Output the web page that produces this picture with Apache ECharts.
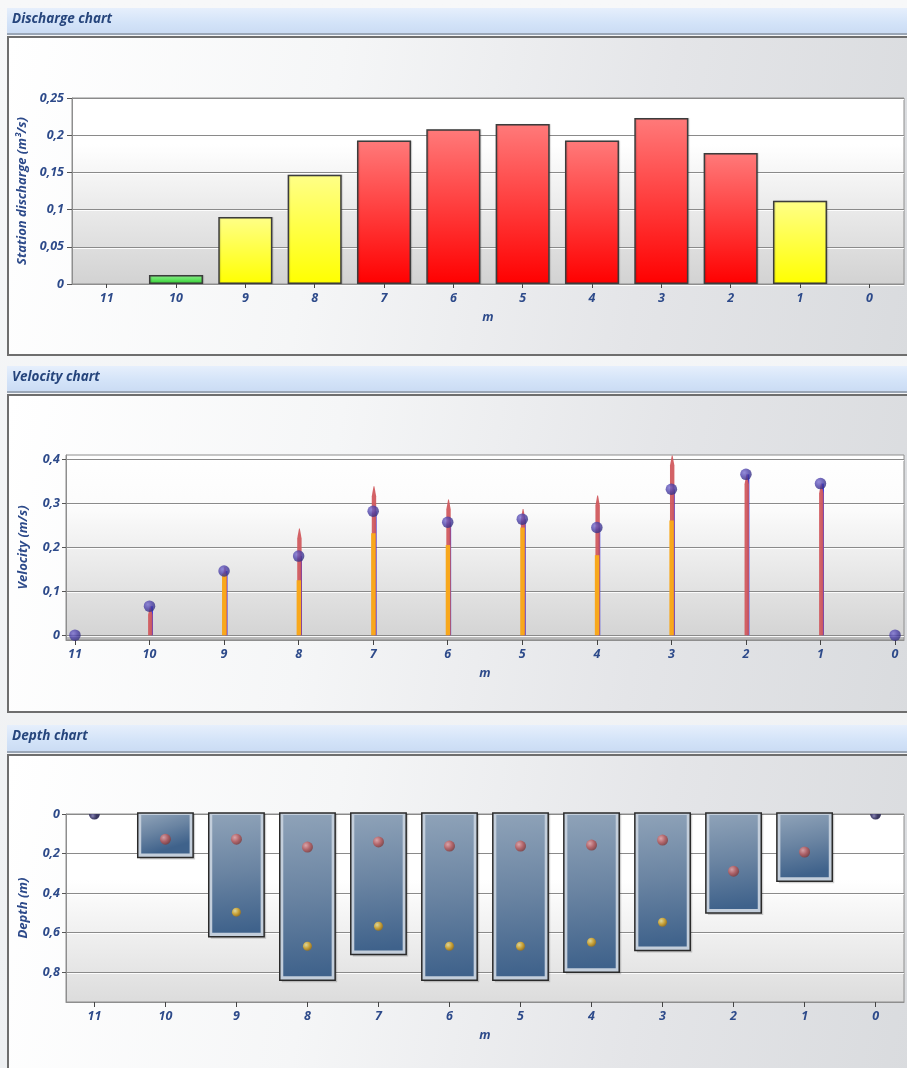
<!DOCTYPE html>
<html><head><meta charset="utf-8">
<script src="https://cdn.jsdelivr.net/npm/echarts@6/dist/echarts.min.js"></script>
<style>
html,body{margin:0;padding:0;background:#f3f4f6;overflow:hidden}
#wrap{position:relative;width:907px;height:1068px;background:linear-gradient(180deg,#f7f8f9,#eef0f2)}
.hdr{position:absolute;left:7px;width:905px;background:linear-gradient(180deg,#e6effc 0%,#d3e3f8 60%,#cbdcf4 100%);border-bottom:2px solid #9aa6b6}
.bdy{position:absolute;left:7px;width:905px;border:2px solid #6e6e6e;border-right:none;box-sizing:border-box;background:linear-gradient(100deg,#ffffff 0%,#f5f6f7 35%,#e4e5e8 70%,#d9dbde 100%)}
#c{position:absolute;left:0;top:0;width:907px;height:1068px}
</style>
</head><body><div id="wrap">
<div class="hdr" style="top:8px;height:25px"></div>
<div class="bdy" style="top:36px;height:320px"></div>
<div class="hdr" style="top:366px;height:25px"></div>
<div class="bdy" style="top:394px;height:319px"></div>
<div class="hdr" style="top:725px;height:26px"></div>
<div class="bdy" style="top:754px;height:330px"></div>
<div id="c"></div>
</div>
<script>
// ---- data ----
const stations = [11, 10, 9, 8, 7, 6, 5, 4, 3, 2, 1, 0];
const stationLabels = ['11', '10', '9', '8', '7', '6', '5', '4', '3', '2', '1', '0'];
const discharge = [0, 0.012, 0.090, 0.147, 0.193, 0.208, 0.215, 0.193, 0.223, 0.176, 0.112, 0];
const dischargeTicks = [0, 0.05, 0.1, 0.15, 0.2, 0.25];
const velocity02 = [0, 0.066, 0.155, 0.243, 0.339, 0.309, 0.287, 0.318, 0.409, 0.366, 0.345, 0];
const velocity08 = [null, null, 0.140, 0.125, 0.232, 0.205, 0.245, 0.182, 0.261, null, null, null];
const velocityMean = [0, 0.066, 0.146, 0.180, 0.282, 0.257, 0.264, 0.245, 0.332, 0.366, 0.345, 0];
const velocityTicks = [0, 0.1, 0.2, 0.3, 0.4];
const depth = [0, 0.22, 0.62, 0.84, 0.71, 0.84, 0.84, 0.80, 0.69, 0.50, 0.34, 0];
const depthPoint02 = [null, 0.127, 0.127, 0.167, 0.141, 0.162, 0.162, 0.157, 0.132, 0.289, 0.192, null];
const depthPoint08 = [null, null, 0.496, 0.668, 0.567, 0.668, 0.668, 0.648, 0.547, null, null, null];
const depthTicks = [0, 0.2, 0.4, 0.6, 0.8];

// ---- styles ----
const FONT = '"Open Sans", Lato, sans-serif';
const LBL = {color: '#2d4a8a', fontFamily: FONT, fontStyle: 'italic', fontWeight: 'bold', fontSize: 12.5};
const fmt = v => String(+(+v).toFixed(2)).replace('.', ',');
const lin = (stops, x2 = 0, y2 = 1) => new echarts.graphic.LinearGradient(0, 0, x2, y2, stops.map(c => ({offset: c[0], color: c[1]})));
const rad = (a, b, c) => new echarts.graphic.RadialGradient(0.35, 0.35, 0.7, [{offset: 0, color: a}, {offset: 0.55, color: b}, {offset: 1, color: c}]);

function barColor(v) {
  if (v < 0.05) return lin([[0, '#8ff08f'], [1, '#2fd02f']]);
  if (v < 0.15) return lin([[0, '#ffff88'], [1, '#ffff00']]);
  return lin([[0, '#ff7a7a'], [1, '#ff0000']]);
}

const splitStyle = {lineStyle: {color: '#8a8a8a', width: 1, shadowColor: 'rgba(255,255,255,0.9)', shadowOffsetY: 1}};
const xLineStyle = {show: true, onZero: false, lineStyle: {color: '#8e8e8e', width: 1}};
const yLineStyle = {show: true, onZero: false, lineStyle: {color: '#8e8e8e', width: 1}};

function xValueAxis(grid, min, max) {
  return {
    gridIndex: grid, type: 'value', inverse: true, min: min, max: max,
    axisLine: xLineStyle,
    axisTick: {show: true, length: 5, customValues: stations, lineStyle: {color: '#444'}},
    axisLabel: Object.assign({}, LBL, {margin: 8, customValues: stations, formatter: v => String(Math.round(v))}),
    splitLine: {show: false},
    name: 'm', nameLocation: 'middle', nameGap: 27, nameTextStyle: Object.assign({}, LBL)
  };
}

function renderStem(params, api) {
  const x = api.value(0), r = api.value(1), o = api.value(2), m = api.value(3);
  const base = api.coord([x, 0]);
  const kids = [];
  if (m > 0) {
    const t = api.coord([x, m]);
    kids.push({type: 'rect', shape: {x: base[0] + 1.2, y: t[1], width: 2.2, height: base[1] - t[1]}, style: {fill: '#2b2be6'}});
  }
  if (r > 0) {
    const t = api.coord([x, r]);
    const cx = base[0] + 0.8;
    const tip = Math.min(10, (base[1] - t[1]) * 0.3);
    kids.push({type: 'polygon', shape: {points: [
      [cx - 2.2, base[1]], [cx - 2.2, t[1] + tip], [cx - 0.4, t[1]], [cx + 0.4, t[1]], [cx + 2.2, t[1] + tip], [cx + 2.2, base[1]]
    ]}, style: {fill: '#d15a5e', opacity: 0.95}});
  }
  if (o > 0) {
    const t = api.coord([x, o]);
    kids.push({type: 'rect', shape: {x: base[0] - 2.0, y: t[1], width: 4.4, height: base[1] - t[1]}, style: {fill: '#f8a81c'}});
  }
  return {type: 'group', children: kids};
}

function renderDepthBar(params, api) {
  const x = api.value(0), d = api.value(1);
  if (!(d > 0)) return null;
  const a = api.coord([x + 0.39, 0]);
  const b = api.coord([x - 0.39, d]);
  const left = Math.min(a[0], b[0]), right = Math.max(a[0], b[0]);
  const top = Math.min(a[1], b[1]), bottom = Math.max(a[1], b[1]);
  const w = right - left, h = bottom - top;
  return {type: 'group', children: [
    {type: 'rect', shape: {x: left + 2, y: top, width: w, height: h + 2}, style: {fill: 'rgba(0,0,0,0.18)'}},
    {type: 'rect', shape: {x: left, y: top - 1, width: w, height: h + 1}, style: {fill: '#c3cedb', stroke: '#2a2a2a', lineWidth: 1.5}},
    {type: 'rect', shape: {x: left + 3.5, y: top + 1, width: w - 7, height: h - 5},
      style: {fill: lin([[0, '#8ea2b8'], [0.5, '#6a84a2'], [1, '#3f628b']], 0.25, 1)}}
  ]};
}

// bank points sit on the top edge of the plot: only the part inside the plot is shown
function renderBankDot(params, api) {
  const p = api.coord([api.value(0), api.value(1)]);
  return {type: 'sector', shape: {cx: p[0], cy: p[1], r0: 0, r: 5.5, startAngle: 0, endAngle: Math.PI},
    style: {fill: rad('#8a86b8', '#55527f', '#3a3860')}};
}

const chart = echarts.init(document.getElementById('c'), null, {renderer: 'canvas'});
const titleStyle = {color: '#26457c', fontFamily: FONT, fontStyle: 'italic', fontWeight: 'bold', fontSize: 13.5};

const option = {
  backgroundColor: 'transparent',
  animation: false,
  title: [
    {text: 'Discharge chart', left: 12, top: 12, textStyle: titleStyle, padding: 0},
    {text: 'Velocity chart', left: 12, top: 370, textStyle: titleStyle, padding: 0},
    {text: 'Depth chart', left: 12, top: 729, textStyle: titleStyle, padding: 0}
  ],
  grid: [
    {left: 72, top: 98, width: 832, height: 186, show: true, borderColor: '#8e8e8e', borderWidth: 1,
      backgroundColor: lin([[0, '#ffffff'], [0.25, '#ffffff'], [1, '#d2d2d2']])},
    {left: 66, top: 455, width: 838, height: 185, show: true, borderColor: '#8e8e8e', borderWidth: 1,
      backgroundColor: lin([[0, '#ffffff'], [0.3, '#fbfbfb'], [0.972, '#d4d4d4'], [0.973, '#b9b9b9'], [1, '#b9b9b9']])},
    {left: 66, top: 814, width: 838, height: 188, show: true, borderColor: '#8e8e8e', borderWidth: 1,
      backgroundColor: lin([[0, '#ffffff'], [0.35, '#ffffff'], [1, '#dcdcdc']])}
  ],
  xAxis: [
    {gridIndex: 0, type: 'category', data: stationLabels, boundaryGap: true,
      axisLine: xLineStyle,
      axisTick: {show: true, alignWithLabel: true, length: 4, lineStyle: {color: '#444'}},
      axisLabel: Object.assign({}, LBL, {margin: 8}),
      splitLine: {show: false},
      name: 'm', nameLocation: 'middle', nameGap: 27, nameTextStyle: Object.assign({}, LBL)},
    xValueAxis(1, -0.12, 11.12),
    xValueAxis(2, -0.4, 11.4)
  ],
  yAxis: [
    {gridIndex: 0, type: 'value', min: 0, max: 0.25, interval: 0.05,
      axisLine: yLineStyle,
      axisTick: {show: true, length: 5, lineStyle: {color: '#555'}},
      axisLabel: Object.assign({}, LBL, {margin: 8, formatter: fmt}),
      splitLine: splitStyle,
      name: 'Station discharge (m³/s)', nameLocation: 'middle', nameGap: 42, nameRotate: 90,
      nameTextStyle: Object.assign({}, LBL, {fontSize: 13})},
    {gridIndex: 1, type: 'value', min: -0.011, max: 0.41,
      axisLine: yLineStyle,
      axisTick: {show: true, length: 4, customValues: velocityTicks, lineStyle: {color: '#555'}},
      axisLabel: Object.assign({}, LBL, {margin: 6, customValues: velocityTicks, formatter: fmt}),
      splitLine: splitStyle,
      name: 'Velocity (m/s)', nameLocation: 'middle', nameGap: 36, nameRotate: 90,
      nameTextStyle: Object.assign({}, LBL, {fontSize: 13})},
    {gridIndex: 2, type: 'value', inverse: true, min: 0, max: 0.95,
      axisLine: yLineStyle,
      axisTick: {show: true, length: 4, customValues: depthTicks, lineStyle: {color: '#555'}},
      axisLabel: Object.assign({}, LBL, {margin: 6, customValues: depthTicks, formatter: fmt}),
      splitLine: splitStyle,
      name: 'Depth (m)', nameLocation: 'middle', nameGap: 36, nameRotate: 90,
      nameTextStyle: Object.assign({}, LBL, {fontSize: 13})}
  ],
  series: [
    {type: 'bar', xAxisIndex: 0, yAxisIndex: 0, barWidth: '78%',
      data: discharge.map(v => ({value: v, itemStyle: {color: barColor(v), borderColor: v > 0 ? '#3c3c3c' : 'transparent', borderWidth: 1.5,
        shadowColor: 'rgba(0,0,0,0.15)', shadowOffsetX: 1, shadowOffsetY: 0, shadowBlur: 1}}))},
    {type: 'custom', xAxisIndex: 1, yAxisIndex: 1, renderItem: renderStem, z: 3,
      encode: {x: 0, y: 1},
      data: stations.map((s, i) => [s, velocity02[i], velocity08[i] == null ? 0 : velocity08[i], velocityMean[i]])},
    {type: 'scatter', xAxisIndex: 1, yAxisIndex: 1, z: 5, symbolSize: 11.5,
      itemStyle: {color: rad('#7a6fd0', '#4a3fa6', '#35307e')},
      data: stations.map((s, i) => [s, velocityMean[i]])},
    {type: 'custom', xAxisIndex: 2, yAxisIndex: 2, renderItem: renderDepthBar, z: 2,
      encode: {x: 0, y: 1},
      data: stations.map((s, i) => [s, depth[i]])},
    {type: 'scatter', xAxisIndex: 2, yAxisIndex: 2, z: 5, symbolSize: 11,
      itemStyle: {color: rad('#f0a8a8', '#bf5a5a', '#7e3838')},
      data: stations.map((s, i) => [s, depthPoint02[i]]).filter(d => d[1] != null)},
    {type: 'scatter', xAxisIndex: 2, yAxisIndex: 2, z: 5, symbolSize: 9,
      itemStyle: {color: rad('#fff0a0', '#e8b020', '#a07010')},
      data: stations.map((s, i) => [s, depthPoint08[i]]).filter(d => d[1] != null)},
    {type: 'custom', xAxisIndex: 2, yAxisIndex: 2, z: 5, renderItem: renderBankDot,
      encode: {x: 0, y: 1},
      data: stations.map((s, i) => [s, depth[i]]).filter(d => d[1] === 0)}
  ]
};
chart.setOption(option);
</script>
</body></html>
